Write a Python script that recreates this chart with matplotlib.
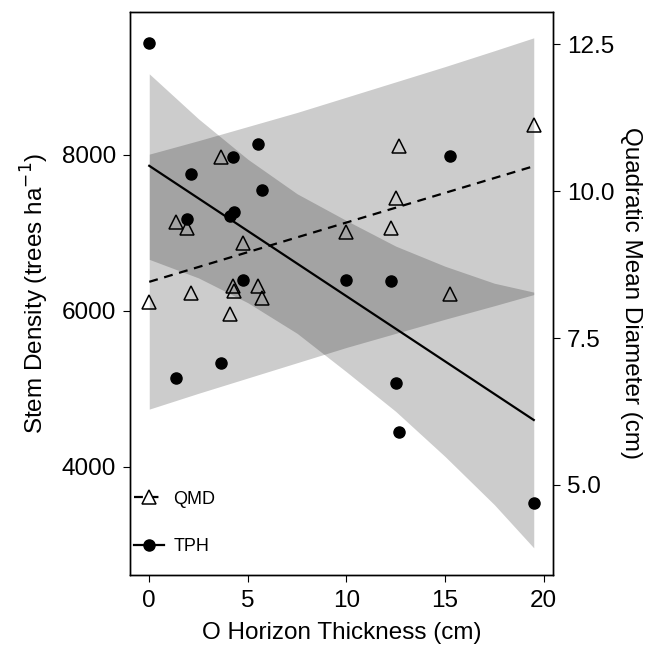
"""O horizon thickness vs stem density / QMD, dual y axis."""
import matplotlib
matplotlib.use("Agg")
import matplotlib.pyplot as plt
from matplotlib.lines import Line2D

plt.rcParams["font.family"] = ["Liberation Sans", "DejaVu Sans"]

# plot-level measurements
o_horizon = [0.0, 1.35, 1.9, 2.1, 3.65, 4.1, 4.25, 4.3, 4.75, 5.5, 5.7,
             10.0, 12.25, 12.5, 12.65, 15.25, 19.5]
tph = [9430, 5140, 7180, 7760, 5330, 7220, 7970, 7270, 6400, 8140, 7550,
       6390, 6380, 5080, 4440, 7990, 3530]
qmd = [8.11, 9.47, 9.37, 8.26, 10.58, 7.91, 8.38, 8.30, 9.11, 8.39, 8.18,
       9.30, 9.37, 9.88, 10.77, 8.25, 11.12]

# fitted lines (end points over the sampled range)
fit_x = [0.0, 19.5]
tph_line = [7860, 4600]
qmd_line = [8.457, 10.425]

# 95% bands around the fits
band_x = [0.0, 2.5, 5.0, 7.5, 10.0, 12.5, 15.0, 17.5, 19.5]
tph_hi = [9040, 8462, 7944, 7501, 7158, 6830, 6572, 6354, 6240]
tph_lo = [6660, 6422, 6104, 5711, 5218, 4710, 4132, 3514, 2960]
qmd_hi = [10.63, 10.86, 11.10, 11.34, 11.60, 11.86, 12.12, 12.39, 12.61]
qmd_lo = [6.29, 6.56, 6.82, 7.08, 7.34, 7.58, 7.82, 8.05, 8.24]

BAND = "black"
DASH = (0, (4, 3))

fig = plt.figure(figsize=(6.58, 6.47), dpi=100)
ax = fig.add_axes([0.1976, 0.1113, 0.6428, 0.8702])
ax2 = ax.twinx()
# left axis on top so every marker sits above both bands
ax.set_zorder(ax2.get_zorder() + 1)
ax.patch.set_visible(False)

ax2.fill_between(band_x, qmd_lo, qmd_hi, color=BAND, alpha=0.2, linewidth=0)
ax.fill_between(band_x, tph_lo, tph_hi, color=BAND, alpha=0.2, linewidth=0)

ax.plot(fit_x, tph_line, color="black", lw=1.6)
ax.plot(fit_x, qmd_line, color="black", lw=1.6, ls=DASH,
        transform=ax2.transData)

ax.plot(o_horizon, tph, "o", color="black", ms=8, zorder=5)
ax.plot(o_horizon, qmd, "^", mfc="none", mec="black", mew=1.1, ms=10,
        transform=ax2.transData, zorder=5)

ax.set_xlim(-0.975, 20.475)
ax.set_ylim(2612, 9833)
ax2.set_ylim(3.467, 13.05)
ax.set_xticks([0, 5, 10, 15, 20])
ax.set_yticks([4000, 6000, 8000])
ax2.set_yticks([5.0, 7.5, 10.0, 12.5])
ax2.set_yticklabels(["5.0", "7.5", "10.0", "12.5"])

for a in (ax, ax2):
    a.tick_params(labelsize=17.5, length=5, width=0.8, pad=5, colors="black")
    for sp in a.spines.values():
        sp.set_linewidth(1.0)
ax.tick_params(axis="x", pad=6)

ax.set_xlabel("O Horizon Thickness (cm)", fontsize=17.5, labelpad=7)
ax.set_ylabel("Stem Density (trees ha$^{-1}$)", fontsize=17.5, labelpad=8)
ax2.set_ylabel("Quadratic Mean Diameter (cm)", fontsize=17.5, rotation=270,
               va="bottom", labelpad=4)

handles = [
    Line2D([], [], color="black", lw=1.6, ls=DASH, marker="^",
           mfc="white", mec="black", mew=1.1, ms=10),
    Line2D([], [], color="black", lw=1.6, marker="o", ms=8),
]
ax.legend(handles, ["QMD", "TPH"], loc="upper left",
          bbox_to_anchor=(0.0, 0.156), frameon=False, fontsize=13,
          handlelength=1.7, handletextpad=0.5, labelspacing=1.67,
          borderaxespad=0.2, borderpad=0)

fig.savefig("out.png", dpi=100)
